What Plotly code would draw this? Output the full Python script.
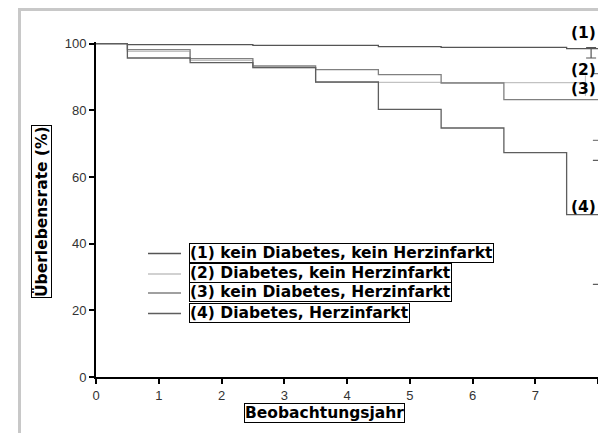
import plotly.graph_objects as go

# ---------------- data ----------------
t_1 = [0, 0.5, 1.5, 2.5, 3.5, 4.5, 5.5, 6.5, 7.5, 8.0]
s_1 = [100, 99.7, 99.7, 99.5, 99.5, 99.1, 98.9, 98.9, 98.5, 98.5]

t_2 = [0, 0.5, 1.5, 2.5, 3.5, 4.5, 5.5, 6.5, 7.8]
s_2 = [100, 97.7, 95.0, 92.8, 88.4, 88.4, 88.3, 88.3, 88.3]

t_3 = [0, 0.5, 1.5, 2.5, 3.5, 4.5, 5.5, 6.5, 8.0]
s_3 = [100, 98.2, 95.5, 93.3, 92.2, 90.7, 88.2, 83.2, 83.2]

t_4 = [0, 0.5, 1.5, 2.5, 3.5, 4.5, 5.5, 6.5, 7.5, 8.0]
s_4 = [100, 95.7, 94.3, 92.8, 88.5, 80.3, 74.7, 67.3, 48.7, 48.7]

# end-of-follow-up interval bars
ci_x = [7.89, 7.8, 8.03, 8.03]
ci_y = [97.3, 88.3, 83.2, 48.7]
ci_hi = [98.8, 90.5, 91.0, 65.0]
ci_lo = [95.7, 84.3, 71.0, 27.8]

names = ["(1) kein Diabetes, kein Herzinfarkt",
         "(2) Diabetes, kein Herzinfarkt",
         "(3) kein Diabetes, Herzinfarkt",
         "(4) Diabetes, Herzinfarkt"]
end_labels = ["(1)", "(2)", "(3)", "(4)"]
x_ticks = [0, 1, 2, 3, 4, 5, 6, 7, 8]
y_ticks = [0, 20, 40, 60, 80, 100]

colors = ["#555555", "#c2c2c2", "#808080", "#5e5e5e"]

# ---------------- layout helpers ----------------
W, H = 598, 433
L, R, T, B = 96, 0, 42, 56
PW, PH = W - L - R, H - T - B


def px(x):  # page pixel -> paper
    return (x - L) / PW


def py(y):
    return (H - B - y) / PH


fig = go.Figure()
for t, s, c, n in zip([t_1, t_2, t_3, t_4], [s_1, s_2, s_3, s_4], colors, names):
    fig.add_trace(go.Scatter(x=t, y=s, mode="lines", line=dict(color=c, width=1.3, shape="hv"),
                             name=n, showlegend=False, hoverinfo="skip"))

for i in range(4):
    fig.add_trace(go.Scatter(
        x=[ci_x[i]], y=[ci_y[i]], mode="markers",
        marker=dict(size=1, color="rgba(0,0,0,0)"),
        error_y=dict(type="data", symmetric=False,
                     array=[ci_hi[i] - ci_y[i]], arrayminus=[ci_y[i] - ci_lo[i]],
                     color=colors[i], thickness=1.2, width=0 if i == 1 else (5 if i == 0 else 7)),
        showlegend=False, hoverinfo="skip"))

shapes = []
# outer grey frame
shapes.append(dict(type="rect", xref="paper", yref="paper",
                   x0=px(19.5), x1=px(640), y0=py(470), y1=py(9.5),
                   line=dict(color="#c8c8c8", width=3), fillcolor="rgba(0,0,0,0)", layer="below"))

FS = 15.5
annotations = []
legend_y = [253.5, 274, 293, 313.5]
for i in range(4):
    shapes.append(dict(type="line", xref="paper", yref="paper",
                       x0=px(148), x1=px(181), y0=py(legend_y[i]), y1=py(legend_y[i]),
                       line=dict(color=colors[i], width=1.3)))
    annotations.append(dict(text=names[i], xref="paper", yref="paper",
                            x=px(189), y=py(legend_y[i] - 1), xanchor="left", yanchor="middle",
                            showarrow=False, bordercolor="#000", borderwidth=1, borderpad=0,
                            font=dict(family="DejaVu Sans", size=FS, color="#000", weight="bold")))

label_pos = [(583, 33), (583, 70), (583, 89), (583, 207)]
for lab, (lx, ly) in zip(end_labels, label_pos):
    annotations.append(dict(text=lab, xref="paper", yref="paper", x=px(lx), y=py(ly),
                            xanchor="center", yanchor="middle", showarrow=False,
                            font=dict(family="DejaVu Sans", size=FS, color="#000", weight="bold")))

annotations.append(dict(text="Überlebensrate (%)", xref="paper", yref="paper",
                        x=px(41), y=py(212), textangle=-90, xanchor="center", yanchor="middle",
                        showarrow=False, bordercolor="#000", borderwidth=1, borderpad=0,
                        font=dict(family="DejaVu Sans", size=FS, color="#000", weight="bold")))
annotations.append(dict(text="Beobachtungsjahr", xref="paper", yref="paper",
                        x=px(324), y=py(413), xanchor="center", yanchor="middle",
                        showarrow=False, bordercolor="#000", borderwidth=1, borderpad=0,
                        font=dict(family="DejaVu Sans", size=FS, color="#000", weight="bold")))

fig.update_layout(
    width=W, height=H,
    margin=dict(l=L, r=R, t=T, b=B, pad=0),
    paper_bgcolor="white", plot_bgcolor="white",
    showlegend=False,
    shapes=shapes, annotations=annotations,
    xaxis=dict(range=[0, 8], tickvals=x_ticks, ticktext=[str(v) for v in x_ticks],
               showgrid=False, zeroline=False, showline=True, linecolor="#000", linewidth=2,
               ticks="outside", ticklen=5, tickwidth=1.5, tickcolor="#000",
               tickfont=dict(family="Liberation Sans, Arial", size=13, color="#333")),
    yaxis=dict(range=[0, 100.5], tickvals=y_ticks, ticktext=[str(v) for v in y_ticks],
               showgrid=False, zeroline=False, showline=True, linecolor="#000", linewidth=2,
               ticks="outside", ticklen=5, tickwidth=1.5, tickcolor="#000",
               tickfont=dict(family="Liberation Sans, Arial", size=13, color="#333")),
)

fig.write_html("out.html", config={"displayModeBar": False},
               post_script="document.body.style.margin='0';document.body.style.overflow='hidden';")
